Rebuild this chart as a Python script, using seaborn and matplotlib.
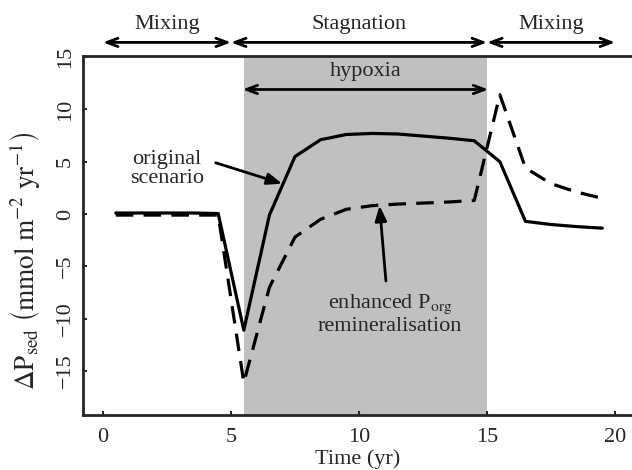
import matplotlib
matplotlib.use("Agg")
import matplotlib.pyplot as plt
import seaborn as sns
import pandas as pd

years = [0.5, 1.5, 2.5, 3.5, 4.5, 5.5, 6.5, 7.5, 8.5, 9.5,
         10.5, 11.5, 12.5, 13.5, 14.5, 15.5, 16.5, 17.5, 18.5, 19.5]
original = [0.1, 0.1, 0.1, 0.1, 0.05, -11.1, -0.1, 5.5, 7.1, 7.6,
            7.7, 7.65, 7.45, 7.25, 7.0, 5.0, -0.7, -1.0, -1.2, -1.35]
enhanced = [-0.1, -0.1, -0.1, -0.1, -0.1, -16.1, -7.0, -2.2, -0.5, 0.45,
            0.8, 0.95, 1.05, 1.15, 1.3, 11.4, 4.4, 2.9, 2.1, 1.5]
x_ticks = [0, 5, 10, 15, 20]
y_ticks = [-15, -10, -5, 0, 5, 10, 15]

sns.set_style("ticks")
plt.rcParams["font.family"] = ["Liberation Serif", "DejaVu Serif"]
plt.rcParams["mathtext.fontset"] = "stix"

df = pd.DataFrame({"year": years, "original": original, "enhanced": enhanced})

fig = plt.figure(figsize=(6.32, 4.70), dpi=100)
ax = fig.add_axes([83 / 632, 55 / 470, 1 - 83 / 632, (415 - 56) / 470])

ax.axvspan(5.5, 15, color="#c0c0c0", lw=0, zorder=0)

sns.lineplot(data=df, x="year", y="original", ax=ax, color="black", lw=2.3,
             zorder=3)
sns.lineplot(data=df, x="year", y="enhanced", ax=ax, color="black", lw=2.3,
             zorder=3)
ax.lines[1].set_dashes([5.5, 3.2])

ax.set_xlim(-0.78, 20.66)
ax.set_ylim(-19.2, 15.1)
ax.set_xticks(x_ticks)
ax.set_yticks(y_ticks)
ax.tick_params(direction="in", length=3, width=1.5, labelsize=16)
ax.tick_params(axis="x", pad=9)
ax.tick_params(axis="y", labelrotation=90, pad=6)
for lab in ax.get_yticklabels():
    lab.set_va("center")
for s in ["left", "bottom", "top"]:
    ax.spines[s].set_linewidth(2)
ax.spines["right"].set_visible(False)

ax.set_xlabel("Time (yr)", fontsize=16)
ax.xaxis.set_label_coords(0.5, -0.095)
ax.set_ylabel(r"$\Delta\mathrm{P}_{\mathrm{sed}}\ \left(\mathrm{mmol\ m^{-2}\ yr^{-1}}\right)$",
              fontsize=19.5)
ax.yaxis.set_label_coords(-0.073, 0.43)

arrow_kw = dict(arrowstyle="<->,head_length=0.8,head_width=0.3", lw=2, color="black",
                shrinkA=0, shrinkB=0)

# phase arrows above the axes
for x0, x1, label in [(0, 5, "Mixing"), (5, 15, "Stagnation"), (15, 20, "Mixing")]:
    ax.annotate("", xy=(x1, 16.4), xytext=(x0, 16.4), arrowprops=arrow_kw,
                annotation_clip=False)
    ax.text((x0 + x1) / 2, 18.1, label, ha="center", va="center", fontsize=16,
            clip_on=False)

# hypoxia arrow
ax.annotate("", xy=(15.05, 11.9), xytext=(5.45, 11.9), arrowprops=arrow_kw)
ax.text(10.25, 13.6, "hypoxia", ha="center", va="center", fontsize=16)

pointer_kw = dict(arrowstyle="-|>,head_length=0.9,head_width=0.35",
                  lw=2, color="black", shrinkA=0, shrinkB=0)

# original scenario label and arrow
ax.text(2.5, 4.3, "original\nscenario", ha="center", va="center", fontsize=16,
        linespacing=1.05)
ax.annotate("", xy=(7.0, 2.9), xytext=(4.4, 4.9), arrowprops=pointer_kw)

# enhanced label and arrow
ax.text(11.2, -9.6, "enhanced P$_{\\mathrm{org}}$\nremineralisation",
        ha="center", va="center", fontsize=16, linespacing=1.05)
ax.annotate("", xy=(10.8, 0.8), xytext=(11.05, -6.4), arrowprops=pointer_kw)

fig.savefig("out.png", dpi=100)
